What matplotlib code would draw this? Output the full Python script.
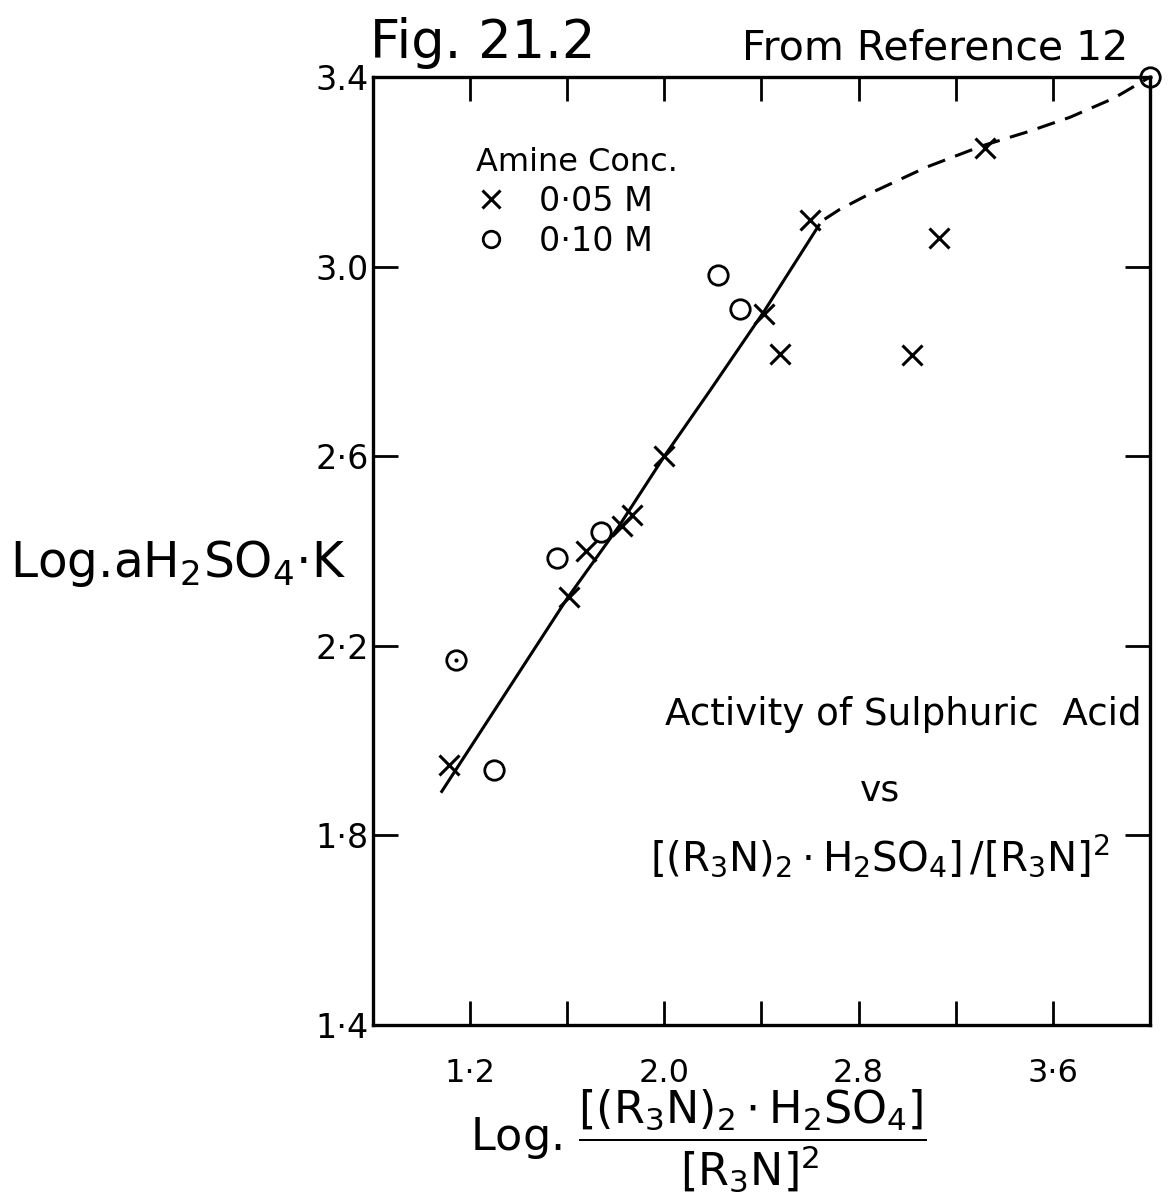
import matplotlib
matplotlib.use("Agg")
import matplotlib.pyplot as plt

plt.rcParams['font.family'] = ['DejaVu Sans']
plt.rcParams['mathtext.fontset'] = 'custom'
plt.rcParams['mathtext.rm'] = 'DejaVu Sans'
plt.rcParams['mathtext.it'] = 'DejaVu Sans'
plt.rcParams['mathtext.bf'] = 'DejaVu Sans'

# 0.05 M amine
x_005 = [1.115, 1.607, 1.677, 1.826, 1.868, 2.00, 2.41, 2.476, 2.60, 3.02, 3.13, 3.32]
y_005 = [1.948, 2.303, 2.400, 2.453, 2.476, 2.60, 2.90, 2.816, 3.098, 2.813, 3.06, 3.25]

# 0.10 M amine
x_010 = [1.144, 1.30, 1.557, 1.74, 2.22, 2.31, 4.00]
y_010 = [2.17, 1.938, 2.385, 2.44, 2.982, 2.91, 3.40]
dotted = [0, 6]   # circles drawn with a centre dot

# fitted curve (solid part, then dashed extension)
fit_x = [1.08, 1.34, 1.60, 1.81, 2.00, 2.19, 2.41, 2.64]
fit_y = [1.89, 2.095, 2.30, 2.45, 2.60, 2.74, 2.905, 3.09]
ext_x = [2.66, 2.72, 2.87, 3.08, 3.31, 3.50, 3.67, 3.85, 4.00]
ext_y = [3.10, 3.12, 3.16, 3.21, 3.255, 3.285, 3.315, 3.355, 3.40]

xticks = [1.2, 1.6, 2.0, 2.4, 2.8, 3.2, 3.6]
xticklabels = ['1·2', '', '2.0', '', '2.8', '', '3·6']
yticks = [1.4, 1.8, 2.2, 2.6, 3.0, 3.4]
yticklabels = ['1·4', '1·8', '2·2', '2·6', '3.0', '3.4']

fig = plt.figure(figsize=(11.68, 11.96), dpi=100)
ax = fig.add_axes([0.3193, 0.143, 0.6653, 0.7926])

ax.plot(fit_x, fit_y, color='black', lw=2.2, solid_capstyle='butt')
ax.plot(ext_x, ext_y, color='black', lw=2.2, dashes=(6, 3.5))

ax.plot(x_005, y_005, 'x', color='black', ms=15, mew=2.2, label='0·05 M')
ax.plot(x_010, y_010, 'o', color='black', mfc='none', ms=14, mew=2.0,
        label='0·10 M', clip_on=False)
ax.plot([x_010[i] for i in dotted], [y_010[i] for i in dotted], '.',
        color='black', ms=4, clip_on=False)

ax.set_xlim(0.8, 4.0)
ax.set_ylim(1.4, 3.4)
ax.set_xticks(xticks)
ax.set_xticklabels(xticklabels, fontsize=23)
ax.set_yticks(yticks)
ax.set_yticklabels(yticklabels, fontsize=24)
ax.tick_params(axis='x', direction='in', length=17, width=2, pad=24,
               top=True, bottom=True)
ax.tick_params(axis='y', direction='in', length=18, width=2, pad=3,
               left=True, right=True)
for s in ax.spines.values():
    s.set_linewidth(2.4)

leg = ax.legend(title='Amine Conc.', loc='upper left',
                bbox_to_anchor=(0.115, 0.94), frameon=False,
                fontsize=24, title_fontsize=23, handlelength=0.9,
                handletextpad=1.0, labelspacing=0.2, markerscale=0.85,
                alignment='left', borderaxespad=0)

ax.text(0.376, 0.316, 'Activity of Sulphuric  Acid', transform=ax.transAxes,
        fontsize=26.8, ha='left', va='baseline')
ax.text(0.652, 0.237, 'vs', transform=ax.transAxes, fontsize=26,
        ha='center', va='baseline')
ax.text(0.357, 0.163, r'$[(R_3N)_2\cdot H_2SO_4]\,/[R_3N]^2$',
        transform=ax.transAxes, fontsize=29, ha='left', va='baseline')

fig.text(0.317, 0.9515, 'Fig. 21.2', fontsize=38, ha='left', va='baseline')
fig.text(0.635, 0.950, 'From Reference 12', fontsize=29.5, ha='left',
         va='baseline')

fig.text(0.0086, 0.5176, 'Log.aH$_2$SO$_4$·K', fontsize=35, ha='left',
         va='baseline')
fig.text(0.598, 0.046, r'Log. $\dfrac{[(R_3N)_2\cdot H_2SO_4]}{[R_3N]^2}$',
         fontsize=32, ha='center', va='center')

fig.savefig('out.png', dpi=100, facecolor='white')
